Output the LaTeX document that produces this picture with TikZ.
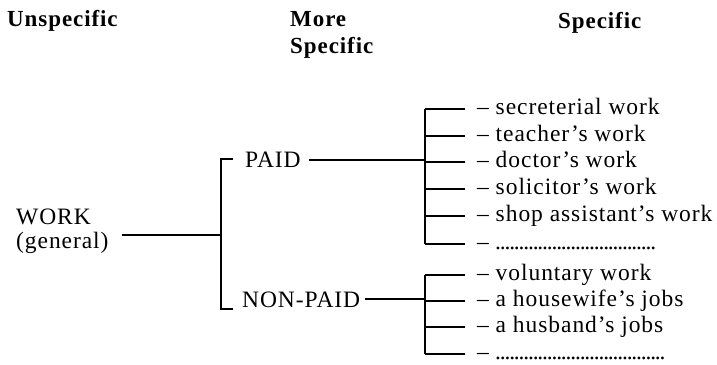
\documentclass[tikz,border=0pt]{standalone}
\usepackage{fontspec}
\setmainfont{Liberation Serif}[LetterSpace=4]
\newcommand{\dotrow}[1]{\makebox[#1]{\leaders\hbox to 4.7pt{\hss.\hss}\hfill}}
\begin{document}
\begin{tikzpicture}[x=1pt,y=-1pt,
  head/.style={inner sep=0pt,anchor=base west,font=\fontsize{23}{27}\selectfont\bfseries},
  lbl/.style={inner sep=0pt,anchor=base west,font=\fontsize{23.5}{27}\selectfont},
  link/.style={line width=1.8pt,line cap=butt}]
\useasboundingbox (0,0) rectangle (717,364);
% headers
\node[head] (h1) at (7,27) {Unspecific};
\node[head] (h2a) at (290,27) {More};
\node[head] (h2b) at (290,53) {Specific};
\node[head] (h3) at (558,28) {Specific};
% level 1
\node[lbl] (work) at (16,224) {WORK};
\node[lbl] (gen) at (16,248) {(general)};
\coordinate (wstart) at (122,235);
\coordinate (j1) at (221,235);
\draw[link] (wstart) -- (j1);
% level 2
\node[lbl] (paid) at (245,167) {PAID};
\node[lbl] (nonpaid) at (242,307) {NON-PAID};
\coordinate (b1t) at (233,159);
\coordinate (b1b) at (233,309);
\draw[link] (b1t) -| (j1) |- (b1b);
\coordinate (k1) at (425,160);
\coordinate (k2) at (425,299);
\draw[link] ([xshift=8pt]paid.east |- k1) -- (k1);
\draw[link] ([xshift=5pt]nonpaid.east |- k2) -- (k2);
% level 3, paid
\foreach \y/\t [count=\i] in {109/secreterial work,136/teacher's work,162/doctor's work,189/solicitor's work,216/shop assistant's work}{
  \coordinate (pa\i) at (425,\y);
  \coordinate (pe\i) at (465,\y);
  \draw[link] (pa\i) -- (pe\i);
  \node[lbl] (p\i) at (477,\y+5.5) {– \t};
}
\coordinate (pa6) at (425,244);
\coordinate (pe6) at (465,244);
\draw[link] (pa6) -- (pe6);
\node[lbl] (p6) at (477,249.5) {– \dotrow{160pt}};
\draw[link] (pa1) -- (pa6);
% level 3, non-paid
\foreach \y/\t [count=\i] in {275/voluntary work,301/a housewife's jobs,327/a husband's jobs}{
  \coordinate (na\i) at (425,\y);
  \coordinate (ne\i) at (465,\y);
  \draw[link] (na\i) -- (ne\i);
  \node[lbl] (n\i) at (477,\y+5.5) {– \t};
}
\coordinate (na4) at (425,354);
\coordinate (ne4) at (465,354);
\draw[link] (na4) -- (ne4);
\node[lbl] (n4) at (477,359.5) {– \dotrow{173pt}};
\draw[link] (na1) -- (na4);
\end{tikzpicture}
\end{document}
